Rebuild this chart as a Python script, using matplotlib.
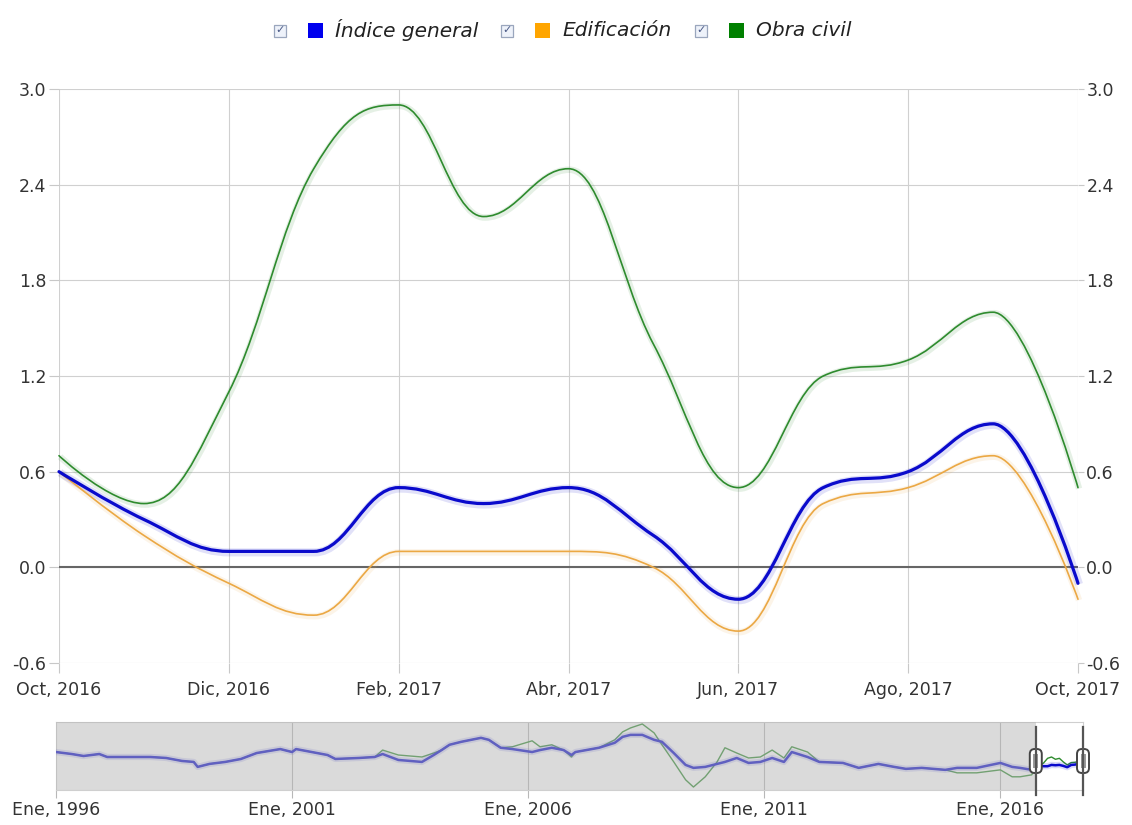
import matplotlib
matplotlib.use('Agg')
import matplotlib.pyplot as plt
from matplotlib.path import Path
from matplotlib.patches import PathPatch, Rectangle, FancyBboxPatch
from matplotlib.transforms import IdentityTransform, offset_copy
from matplotlib.ticker import FormatStrFormatter

plt.rcParams['axes.unicode_minus'] = False
plt.rcParams['font.family'] = ['DejaVu Sans']

# datos del grafico principal (Oct 2016 - Oct 2017, mensual)
meses = list(range(13))
etiquetas_x = ['Oct, 2016', 'Dic, 2016', 'Feb, 2017', 'Abr, 2017',
               'Jun, 2017', 'Ago, 2017', 'Oct, 2017']
indice_general = [0.6, 0.3, 0.1, 0.1, 0.5, 0.4, 0.5, 0.2, -0.2, 0.5, 0.6, 0.9, -0.1]
edificacion = [0.6, 0.2, -0.1, -0.3, 0.1, 0.1, 0.1, 0.0, -0.4, 0.4, 0.5, 0.7, -0.2]
obra_civil = [0.7, 0.4, 1.1, 2.5, 2.9, 2.2, 2.5, 1.4, 0.5, 1.2, 1.3, 1.6, 0.5]
y_ticks = [-0.6, 0.0, 0.6, 1.2, 1.8, 2.4, 3.0]

# navegador: meses desde Ene 1996 (valores leidos a ojo)
nav_meses = [0, 4, 7, 11, 13, 20, 24, 28, 32, 35, 36, 39, 43, 47, 51, 57, 60, 61,
             65, 69, 71, 77, 81, 83, 87, 93, 96, 98, 100, 103, 108, 110, 113, 116,
             121, 123, 126, 129, 131, 132, 138, 142, 144, 146, 149, 152, 154, 157,
             160, 162, 165, 168, 170, 173, 176, 179, 182, 185, 187, 191, 194, 200,
             204, 209, 213, 216, 220, 226, 229, 234, 240, 243, 245, 248]
nav_indice = [4.4, 3.8, 3.2, 3.8, 2.9, 2.9, 2.9, 2.6, 1.7, 1.4, -0.1, 0.8, 1.4, 2.3,
              4.1, 5.3, 4.4, 5.3, 4.4, 3.5, 2.3, 2.6, 2.9, 3.8, 2.0, 1.4, 3.5, 5.0,
              6.6, 7.5, 8.7, 8.1, 5.7, 5.3, 4.4, 5.0, 5.7, 5.0, 3.5, 4.4, 5.7, 7.2,
              9.0, 9.6, 9.6, 8.1, 7.5, 4.1, 0.5, -0.4, -0.1, 0.8, 1.4, 2.6, 1.1, 1.4,
              2.6, 1.4, 4.4, 2.9, 1.4, 1.1, -0.4, 0.8, -0.1, -0.7, -0.4, -1.0, -0.4,
              -0.4, 1.1, -0.1, -0.4, -1.0]
nav_obra = [4.4, 3.8, 3.2, 3.8, 2.9, 2.9, 2.9, 2.6, 1.7, 1.4, -0.1, 0.8, 1.4, 2.3,
            4.1, 5.3, 4.4, 5.3, 4.4, 3.5, 2.3, 2.6, 2.9, 5.0, 3.5, 2.9, 4.1, 5.0,
            6.6, 7.5, 8.7, 8.1, 5.7, 6.0, 7.8, 6.0, 6.6, 5.0, 2.9, 4.4, 5.7, 8.1,
            10.5, 11.7, 12.9, 10.2, 6.6, 1.4, -4.0, -6.2, -3.1, 1.4, 5.7, 4.1, 2.6,
            2.9, 5.0, 2.6, 6.0, 4.4, 1.4, 1.1, -0.4, 0.8, -0.1, -0.7, -0.4, -1.0,
            -1.9, -1.9, -1.0, -3.1, -3.1, -2.5]
nav_inicio = 249  # Oct 2016
nav_ticks = [0, 60, 120, 180, 240]
nav_etiquetas = ['Ene, 1996', 'Ene, 2001', 'Ene, 2006', 'Ene, 2011', 'Ene, 2016']

azul = '#0a0acc'
naranja = '#eba844'
verde = '#2e8b2e'


def spline(xs, ys, smoothing=1.5):
    # curva tipo highcharts
    n = len(xs)
    lc = [None] * n
    rc = [None] * n
    d = smoothing + 1
    for i in range(1, n - 1):
        px, py = xs[i], ys[i]
        lx, ly = xs[i - 1], ys[i - 1]
        nx, ny = xs[i + 1], ys[i + 1]
        lcx = (smoothing * px + lx) / d
        lcy = (smoothing * py + ly) / d
        rcx = (smoothing * px + nx) / d
        rcy = (smoothing * py + ny) / d
        corr = (rcy - lcy) * (rcx - px) / (rcx - lcx) + py - rcy
        lcy += corr
        rcy += corr
        if lcy > ly and lcy > py:
            lcy = max(ly, py)
            rcy = 2 * py - lcy
        elif lcy < ly and lcy < py:
            lcy = min(ly, py)
            rcy = 2 * py - lcy
        if rcy > ny and rcy > py:
            rcy = max(ny, py)
            lcy = 2 * py - rcy
        elif rcy < ny and rcy < py:
            rcy = min(ny, py)
            lcy = 2 * py - rcy
        lc[i] = (lcx, lcy)
        rc[i] = (rcx, rcy)
    verts = [(xs[0], ys[0])]
    codes = [Path.MOVETO]
    for i in range(1, n):
        c1 = rc[i - 1] if rc[i - 1] else (xs[i - 1], ys[i - 1])
        c2 = lc[i] if lc[i] else (xs[i], ys[i])
        verts += [c1, c2, (xs[i], ys[i])]
        codes += [Path.CURVE4] * 3
    return Path(verts, codes)


fig = plt.figure(figsize=(11.32, 8.25), dpi=100)
W, H = 1132, 825

# ---- grafico principal ----
ax = fig.add_axes([59 / W, 1 - 663 / H, 1019 / W, 574 / H])
ax.set_xlim(0, 12)
ax.set_ylim(-0.6, 3.0)
for s in ax.spines.values():
    s.set_visible(False)
ax.set_xticks(meses[::2])
ax.set_xticklabels(etiquetas_x)
ax.set_yticks(y_ticks)
ax.yaxis.set_major_formatter(FormatStrFormatter('%.1f'))
ax.grid(True, color='#d0d0d0', linewidth=0.8)
ax.tick_params(axis='x', length=7.2, width=0.8, color='#c8c8c8', pad=6,
               labelsize=12.5, labelcolor='#333333')
ax.tick_params(axis='y', length=7.2, width=0.8, color='#c8c8c8', pad=2,
               labelsize=12.5, labelcolor='#333333')
ax.axhline(0, color='#666666', linewidth=1.5, zorder=2)

ax2 = ax.twinx()
ax2.set_ylim(-0.6, 3.0)
ax2.set_yticks(y_ticks)
ax2.yaxis.set_major_formatter(FormatStrFormatter('%.1f'))
for s in ax2.spines.values():
    s.set_visible(False)
ax2.tick_params(axis='y', length=4, width=0.8, color='#c8c8c8', pad=2,
                labelsize=12.5, labelcolor='#333333')

series = [(obra_civil, verde, 1.2), (edificacion, naranja, 1.2), (indice_general, azul, 2.3)]
for vals, col, lw in series:
    p = spline(meses, vals)
    sombra = offset_copy(ax.transData, fig=fig, x=1, y=-1, units='dots')
    ax.add_patch(PathPatch(p, fill=False, edgecolor=col, lw=lw + 3.5, alpha=0.12,
                           transform=sombra, zorder=3, clip_on=False))
    ax.add_patch(PathPatch(p, fill=False, edgecolor=col, lw=lw, zorder=4,
                           clip_on=False, capstyle='round', joinstyle='round'))

# ---- navegador ----
nav = fig.add_axes([56 / W, 1 - 790 / H, 1027 / W, 68 / H])
nav.set_xlim(0, 261)
nav.set_ylim(-7.1, 13.5)
nav.set_facecolor('white')
for s in nav.spines.values():
    s.set_color('#cfcfcf')
    s.set_linewidth(0.8)
nav.set_yticks([])
nav.set_xticks(nav_ticks)
nav.set_xticklabels(nav_etiquetas)
nav.tick_params(axis='x', length=6, width=0.8, color='#b8b8b8', pad=2,
                labelsize=12.5, labelcolor='#333333')
for m in nav_ticks[1:]:
    nav.axvline(m, color='#b8b8b8', linewidth=0.8, zorder=1)

m_total = nav_meses + [nav_inicio + i for i in meses]
v_azul = nav_indice + indice_general
v_verde = nav_obra + obra_civil
nav.plot(m_total, v_verde, color=verde, lw=1.0, zorder=2)
nav.plot(m_total, v_azul, color=azul, lw=4.5, alpha=0.15, zorder=3)
nav.plot(m_total, v_azul, color=azul, lw=1.8, zorder=3)
nav.axvspan(0, nav_inicio, color='#b6b6b6', alpha=0.5, lw=0, zorder=5)

fig.canvas.draw()
ident = IdentityTransform()
for m in (nav_inicio, 261):
    xd = nav.transData.transform((m, 0))[0]
    fig.add_artist(plt.Line2D([xd, xd], [H - 795, H - 727], color='#555555', lw=1.6,
                              transform=ident))
    fig.add_artist(FancyBboxPatch((xd - 6, H - 773), 12, 24,
                                  boxstyle='round,pad=0,rounding_size=5',
                                  facecolor='white', edgecolor='#444444', lw=1.4,
                                  transform=ident))
    fig.add_artist(Rectangle((xd - 2.5, H - 768), 5, 14, facecolor='#9a9a9a',
                             edgecolor='none', transform=ident))

# ---- leyenda ----
renderer = fig.canvas.get_renderer()
x = 274
yc = H - 30
for nombre, col in [('Índice general', '#0000ee'), ('Edificación', '#ffa500'),
                    ('Obra civil', '#008000')]:
    fig.add_artist(Rectangle((x, yc - 6.5), 12, 12, facecolor='#eef2fa',
                             edgecolor='#9aa6bd', lw=0.9, transform=ident))
    fig.text((x + 6) / W, (yc - 0.5) / H, '✓', fontsize=8, color='#4b5a86',
             ha='center', va='center', fontweight='bold')
    x += 34
    fig.add_artist(Rectangle((x, yc - 7.5), 15, 15, facecolor=col,
                             edgecolor='none', transform=ident))
    x += 27
    t = fig.text(x / W, yc / H, nombre, fontsize=14.5, style='italic',
                 color='#222222', ha='left', va='center')
    bb = t.get_window_extent(renderer)
    x = bb.x1 + 23

fig.savefig('out.png', dpi=100)
